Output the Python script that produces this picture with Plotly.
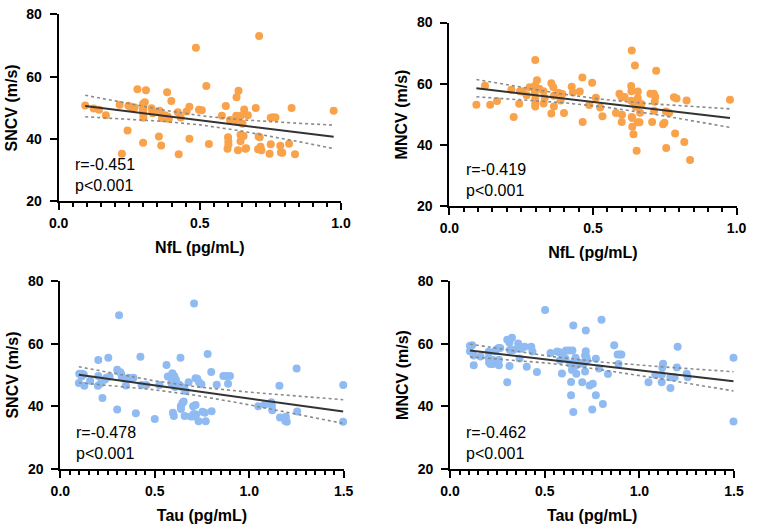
import numpy as np
import plotly.graph_objects as go

# ---------------- data ----------------
# Panel A: NfL vs SNCV
nfl_a = [0.094, 0.124, 0.143, 0.167, 0.216, 0.224, 0.244, 0.247, 0.255, 0.269,
         0.279, 0.299, 0.299, 0.299, 0.300, 0.300, 0.299, 0.305, 0.309, 0.329,
         0.331, 0.333, 0.355, 0.357, 0.360, 0.363, 0.366, 0.376, 0.384, 0.386,
         0.390, 0.399, 0.422, 0.425, 0.432, 0.453, 0.463, 0.463, 0.486, 0.497,
         0.507, 0.523, 0.532, 0.578, 0.592, 0.600, 0.601, 0.601, 0.598, 0.607,
         0.629, 0.630, 0.631, 0.635, 0.637, 0.645, 0.644, 0.644, 0.651, 0.655,
         0.657, 0.661, 0.664, 0.670, 0.698, 0.710, 0.708, 0.712, 0.706, 0.715,
         0.718, 0.747, 0.751, 0.759, 0.768, 0.751, 0.785, 0.787, 0.792, 0.816,
         0.825, 0.837, 0.974]
sncv_a = [50.8, 49.8, 49.4, 47.6, 51.0, 35.3, 42.7, 50.7, 50.3, 50.1,
          56.0, 51.3, 49.9, 49.1, 47.8, 46.8, 38.8, 51.8, 55.7, 49.9,
          49.1, 48.3, 40.8, 49.1, 48.4, 37.9, 46.7, 47.6, 55.0, 47.2,
          46.4, 52.2, 48.6, 35.1, 46.9, 48.8, 50.4, 40.1, 69.3, 49.4,
          49.2, 57.0, 38.4, 47.5, 50.6, 40.6, 39.3, 38.2, 36.9, 46.1,
          47.5, 53.4, 45.6, 36.4, 55.5, 47.5, 41.4, 39.3, 44.9, 41.0,
          49.5, 36.9, 37.0, 47.6, 50.0, 73.1, 40.8, 40.6, 36.7, 37.5,
          36.4, 35.3, 46.8, 47.0, 46.9, 38.3, 37.8, 35.7, 35.6, 38.5,
          50.0, 35.1, 49.1]

# Panel B: NfL vs MNCV
nfl_b = [0.094, 0.124, 0.142, 0.166, 0.216, 0.224, 0.243, 0.246, 0.255, 0.269,
         0.279, 0.299, 0.298, 0.299, 0.298, 0.299, 0.299, 0.299, 0.305, 0.313,
         0.328, 0.328, 0.332, 0.355, 0.355, 0.362, 0.364, 0.364, 0.380, 0.387,
         0.393, 0.399, 0.426, 0.430, 0.454, 0.463, 0.464, 0.487, 0.497, 0.510,
         0.525, 0.533, 0.580, 0.592, 0.599, 0.601, 0.600, 0.610, 0.633, 0.634,
         0.633, 0.635, 0.637, 0.635, 0.641, 0.644, 0.646, 0.649, 0.652, 0.656,
         0.656, 0.656, 0.662, 0.664, 0.669, 0.700, 0.706, 0.712, 0.715, 0.717,
         0.713, 0.720, 0.744, 0.749, 0.755, 0.754, 0.765, 0.782, 0.791, 0.786,
         0.818, 0.826, 0.838, 0.977, 0.637, 0.655]
mncv_b = [53.2, 59.4, 53.2, 54.4, 58.1, 49.2, 53.5, 57.6, 57.5, 56.3,
          58.9, 67.8, 59.4, 58.4, 57.3, 55.2, 53.5, 52.6, 61.2, 58.4,
          57.6, 53.6, 55.4, 60.2, 50.3, 58.9, 56.1, 52.6, 57.1, 54.6,
          56.7, 50.5, 59.1, 57.2, 57.5, 62.1, 47.6, 53.1, 60.4, 55.5,
          52.3, 49.4, 50.5, 56.8, 55.7, 49.9, 47.6, 55.7, 59.3, 57.6,
          54.5, 49.2, 46.0, 70.9, 43.6, 53.8, 66.0, 52.5, 38.2, 57.5,
          55.4, 47.5, 47.5, 50.6, 53.4, 56.8, 47.6, 56.8, 54.2, 55.7,
          51.2, 64.3, 46.8, 47.3, 39.1, 51.0, 50.5, 55.6, 55.2, 43.8,
          41.0, 54.6, 35.2, 54.8, 48.9, 53.2]

# Panel C: Tau vs SNCV
tau_c = [0.098, 0.100, 0.112, 0.115, 0.124, 0.127, 0.158, 0.201, 0.201, 0.199,
         0.213, 0.223, 0.235, 0.244, 0.254, 0.261, 0.301, 0.301, 0.311, 0.318,
         0.323, 0.326, 0.335, 0.347, 0.364, 0.387, 0.400, 0.424, 0.430, 0.455,
         0.500, 0.524, 0.562, 0.569, 0.588, 0.593, 0.596, 0.601, 0.603, 0.607,
         0.612, 0.620, 0.630, 0.636, 0.638, 0.639, 0.643, 0.646, 0.653, 0.655,
         0.658, 0.663, 0.679, 0.691, 0.703, 0.708, 0.706, 0.710, 0.716, 0.716,
         0.719, 0.725, 0.732, 0.734, 0.747, 0.753, 0.765, 0.770, 0.780, 0.799,
         0.801, 0.828, 0.863, 0.880, 0.888, 0.898, 1.048, 1.083, 1.117, 1.120,
         1.122, 1.163, 1.160, 1.194, 1.191, 1.199, 1.251, 1.254, 1.497, 1.498]
sncv_c = [47.5, 50.4, 49.5, 50.4, 50.2, 46.6, 48.2, 54.8, 49.7, 46.6,
          47.3, 42.7, 48.5, 49.1, 55.5, 49.5, 39.0, 51.7, 69.0, 50.9,
          50.2, 49.3, 48.9, 46.7, 49.1, 49.1, 37.8, 55.8, 46.8, 46.8,
          36.0, 46.8, 53.2, 49.5, 47.5, 50.6, 38.0, 37.0, 49.7, 46.2,
          48.5, 47.1, 46.9, 55.5, 40.1, 39.2, 46.2, 41.1, 41.6, 45.8,
          37.0, 44.9, 47.7, 36.8, 40.1, 72.8, 37.6, 36.8, 49.0, 40.5,
          37.4, 48.8, 35.3, 47.7, 47.1, 38.3, 38.0, 35.3, 56.7, 51.0,
          38.5, 46.9, 49.7, 49.7, 47.2, 49.7, 40.1, 40.6, 41.3, 40.3,
          38.8, 36.5, 46.6, 36.7, 35.4, 35.1, 52.1, 38.4, 35.1, 46.8]

# Panel D: Tau vs MNCV
tau_d = [0.105, 0.105, 0.117, 0.125, 0.125, 0.161, 0.204, 0.204, 0.206, 0.213,
         0.226, 0.226, 0.237, 0.245, 0.257, 0.258, 0.258, 0.265, 0.302, 0.302,
         0.314, 0.314, 0.316, 0.327, 0.333, 0.353, 0.360, 0.367, 0.374, 0.394,
         0.405, 0.429, 0.435, 0.459, 0.502, 0.531, 0.566, 0.574, 0.591, 0.593,
         0.610, 0.612, 0.629, 0.646, 0.602, 0.635, 0.652, 0.644, 0.639, 0.639,
         0.651, 0.651, 0.663, 0.665, 0.667, 0.667, 0.693, 0.698, 0.705, 0.713,
         0.717, 0.713, 0.717, 0.724, 0.720, 0.737, 0.754, 0.751, 0.770, 0.770,
         0.787, 0.800, 0.807, 0.834, 0.867, 0.580, 0.885, 0.890, 0.897, 0.905,
         1.048, 1.084, 1.118, 1.118, 1.121, 1.125, 1.164, 1.164, 1.186, 1.198,
         1.202, 1.250, 1.255, 1.497, 1.497]
mncv_d = [59.3, 57.6, 59.5, 56.2, 53.1, 55.9, 57.4, 55.5, 54.0, 53.5,
          53.5, 54.8, 57.6, 58.1, 58.6, 54.9, 53.1, 58.6, 47.7, 61.2,
          60.3, 52.9, 58.0, 61.9, 58.0, 58.4, 60.0, 55.3, 58.4, 59.0,
          52.6, 59.0, 57.5, 51.0, 70.7, 57.0, 57.5, 57.3, 50.5, 56.2,
          55.2, 57.8, 57.8, 57.8, 55.5, 53.6, 52.4, 51.6, 47.8, 43.6,
          65.8, 38.2, 55.5, 54.2, 53.1, 50.4, 53.9, 47.7, 53.5, 51.1,
          57.6, 56.2, 64.2, 54.7, 55.8, 46.7, 47.2, 39.0, 55.2, 43.6,
          52.1, 67.6, 40.8, 50.3, 59.5, 54.7, 56.5, 53.5, 56.5, 56.5,
          47.7, 50.1, 50.1, 47.7, 52.4, 53.6, 49.3, 45.9, 49.3, 52.4,
          59.0, 50.4, 49.3, 55.5, 35.2]

stats_text = ["r=-0.451<br>p<0.001", "r=-0.419<br>p<0.001",
              "r=-0.478<br>p<0.001", "r=-0.462<br>p<0.001"]
x_titles = ["NfL (pg/mL)", "NfL (pg/mL)", "Tau (pg/mL)", "Tau (pg/mL)"]
y_titles = ["SNCV (m/s)", "MNCV (m/s)", "SNCV (m/s)", "MNCV (m/s)"]
x_max = [1.0, 1.0, 1.5, 1.5]
x_major = [[0.0, 0.5, 1.0], [0.0, 0.5, 1.0], [0.0, 0.5, 1.0, 1.5], [0.0, 0.5, 1.0, 1.5]]
y_major = [20, 40, 60, 80]
minor_step = 0.05

ORANGE = "#F9A24A"
BLUE = "#8FBBF2"

panels = [
    (nfl_a, sncv_a, ORANGE),
    (nfl_b, mncv_b, ORANGE),
    (tau_c, sncv_c, BLUE),
    (tau_d, mncv_d, BLUE),
]

W, H = 757, 528
# pixel boxes (left, right, top, bottom) of each plotting area
boxes = [
    (50.0, 340.0, 6.7, 199.3),
    (451.3, 746.3, 15.0, 204.7),
    (51.7, 342.7, 281.3, 475.7),
    (452.0, 743.7, 281.3, 475.7),
]

FONT = "Liberation Sans, Arial, sans-serif"
fig = go.Figure()
T95 = 1.99

for i, ((xs, ys, col), box) in enumerate(zip(panels, boxes)):
    xs = np.array(xs, float)
    ys = np.array(ys, float)
    assert len(xs) == len(ys)
    n = len(xs)
    sfx = "" if i == 0 else str(i + 1)
    xa, ya = "x" + sfx, "y" + sfx
    # regression + 95% CI of mean
    b1, b0 = np.polyfit(xs, ys, 1)
    resid = ys - (b0 + b1 * xs)
    s = np.sqrt(np.sum(resid ** 2) / (n - 2))
    sxx = np.sum((xs - xs.mean()) ** 2)
    gx = np.linspace(xs.min(), xs.max(), 60)
    gy = b0 + b1 * gx
    se = s * np.sqrt(1.0 / n + (gx - xs.mean()) ** 2 / sxx)
    fig.add_trace(go.Scatter(x=xs, y=ys, mode="markers", xaxis=xa, yaxis=ya,
                             marker=dict(color=col, size=8, line=dict(width=0)),
                             cliponaxis=False, showlegend=False))
    for band in (gy + T95 * se, gy - T95 * se):
        fig.add_trace(go.Scatter(x=gx, y=band, mode="lines", xaxis=xa, yaxis=ya,
                                 line=dict(color="#8a8a8a", width=1.6, dash="dot"),
                                 showlegend=False))
    fig.add_trace(go.Scatter(x=gx, y=gy, mode="lines", xaxis=xa, yaxis=ya,
                             line=dict(color="#333333", width=2),
                             showlegend=False))

    minor_vals = [round(k * minor_step, 2) for k in range(int(round(x_max[i] / minor_step)) + 1)]
    l, r, t, b = box
    axis_common = dict(showgrid=False, zeroline=False, showline=True,
                       linecolor="black", linewidth=2, ticks="outside",
                       tickcolor="black", tickwidth=1.8, ticklen=7,
                       tickfont=dict(family=FONT, size=14, color="black", weight="bold"))
    fig.layout["xaxis" + sfx] = dict(
        domain=[l / W, r / W], anchor=ya, range=[0, x_max[i]],
        tickmode="array", tickvals=x_major[i],
        ticktext=["%.1f" % v for v in x_major[i]],
        ticklabelstandoff=1,
        minor=dict(tickmode="array", tickvals=minor_vals, ticks="outside", ticklen=4,
                   tickcolor="black", tickwidth=1.5, showgrid=False),
        title=dict(text=x_titles[i], font=dict(family=FONT, size=16, color="black", weight="bold"),
                   standoff=12),
        **axis_common)
    fig.layout["yaxis" + sfx] = dict(
        domain=[1 - b / H, 1 - t / H], anchor=xa, range=[20, 80],
        tickmode="array", tickvals=y_major,
        ticklabelstandoff=5,
        title=dict(text=y_titles[i], font=dict(family=FONT, size=16, color="black", weight="bold"),
                   standoff=5),
        **axis_common)
    fig.add_annotation(text=stats_text[i], xref=xa + " domain", yref=ya + " domain",
                       x=0.05, y=0.03, xanchor="left", yanchor="bottom", showarrow=False,
                       align="left", font=dict(family=FONT, size=16, color="black"))

fig.update_layout(width=W, height=H, margin=dict(l=0, r=0, t=0, b=0),
                  paper_bgcolor="white", plot_bgcolor="white")
fig.write_html("out.html")
